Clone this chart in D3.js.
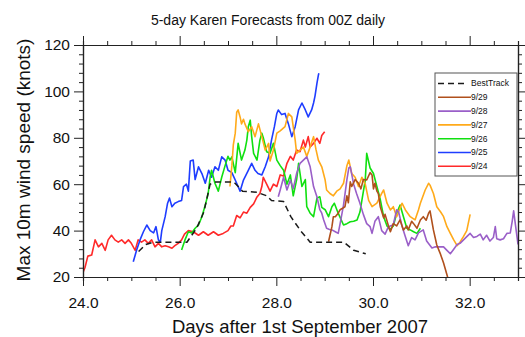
<!DOCTYPE html>
<html>
<head>
<meta charset="utf-8">
<script src="https://cdn.jsdelivr.net/npm/d3@7"></script>
<style>
  body { margin: 0; background: #fff; }
  svg { display: block; font-family: "Liberation Sans", Arial, Helvetica, sans-serif; }
</style>
</head>
<body>
<div id="chart"></div>
<script>
// [day after 1 Sep 2007, max 10m wind (knots)]
var bestTrack = [[25.15,31],[25.3,34],[25.45,35],[25.75,35],[26.0,35],[26.15,35],[26.35,41],[26.5,48],[26.63,60],
  [26.75,61],[27.0,61],[27.12,61],[27.3,57],[27.6,56.5],[27.8,55],[27.9,53],[28.15,52.5],[28.3,46],[28.5,40],
  [28.7,35],[29.0,35],[29.4,35],[29.6,31.5],[29.85,30]];

var fc0924 = [[24.0,22],[24.04,24],[24.1,29],[24.18,29.5],[24.25,36],[24.32,33],[24.39,34.5],[24.46,31.5],[24.52,36],
  [24.59,38],[24.66,36],[24.73,35],[24.8,36],[24.87,34.5],[24.94,36],[25.0,34.5],[25.08,31.5],[25.14,36],[25.21,35],
  [25.28,36],[25.35,34.5],[25.42,36],[25.49,33],[25.56,34.5],[25.63,33],[25.7,33.5],[25.77,33],[25.84,32.4],[25.9,33.5],
  [25.97,34.5],[26.04,36],[26.1,38.5],[26.18,40],[26.28,39.5],[26.39,38],[26.49,39.5],[26.59,38],[26.7,39.5],[26.8,38],
  [26.9,38.8],[27.0,40],[27.06,42],[27.11,42],[27.18,46.5],[27.25,45.5],[27.32,48],[27.39,47.5],[27.46,50],[27.53,51.5],
  [27.6,54.5],[27.66,56],[27.7,59],[27.73,63],[27.8,60],[27.87,57],[27.94,60],[28.01,59],[28.08,64],[28.15,63.5],
  [28.22,69],[28.29,72],[28.35,70.4],[28.42,74.7],[28.49,74],[28.56,79],[28.6,76],[28.66,80.5],[28.7,76],[28.77,77.6],
  [28.84,79.8],[28.9,77.6],[28.94,81],[29.0,82.6]];

var fc0925 = [[25.04,26.6],[25.11,31.6],[25.18,36],[25.25,39.5],[25.32,42.4],[25.39,40],[25.46,39],[25.51,41.7],[25.56,36],
  [25.6,35],[25.63,40],[25.7,46],[25.75,51.8],[25.79,54],[25.84,50.3],[25.9,51.8],[25.97,52.5],[26.04,53],[26.08,59],
  [26.14,60],[26.18,57],[26.22,70],[26.28,70.4],[26.32,62],[26.39,67.5],[26.46,64.6],[26.53,60.4],[26.6,66],[26.66,63],
  [26.73,67.5],[26.8,66],[26.87,71.8],[26.94,70.4],[27.0,66],[27.08,65],[27.18,60.4],[27.25,57],[27.32,61.8],[27.42,66],
  [27.49,69],[27.56,66],[27.62,64.6],[27.7,64],[27.77,67.5],[27.84,71.8],[27.9,79],[27.96,84.8],[28.01,90.5],[28.04,92],
  [28.11,90],[28.18,90.5],[28.25,86],[28.32,80.5],[28.39,84.8],[28.46,92],[28.53,95],[28.6,92],[28.66,89],[28.73,92],
  [28.77,95],[28.8,98],[28.84,103.5],[28.87,107],[28.88,107.8]];

var fc0926 = [[26.04,31.6],[26.11,36],[26.18,39.5],[26.25,39],[26.32,41],[26.39,42.4],[26.46,46],[26.53,51],[26.59,56],
  [26.63,63],[26.66,66],[26.73,60.4],[26.8,57],[26.87,63],[26.94,68],[27.0,72],[27.04,70.4],[27.08,71.8],[27.15,65],
  [27.21,77.6],[27.28,70.4],[27.35,74.7],[27.39,79],[27.42,84.8],[27.46,87.6],[27.49,80.5],[27.53,73.3],[27.6,70.4],
  [27.66,79],[27.7,82],[27.73,80],[27.8,74],[27.87,73.3],[27.94,77.6],[28.01,70.4],[28.08,68],[28.15,66],[28.22,60],
  [28.29,64],[28.35,55],[28.42,62],[28.46,69],[28.53,59],[28.6,62],[28.63,50.3],[28.7,47.5],[28.77,46],[28.84,54],
  [28.9,54.6],[28.94,50],[29.01,49],[29.08,46],[29.15,50.3],[29.2,51.8],[29.28,47.5],[29.39,42.4],[29.46,43],[29.53,43.8],
  [29.6,44],[29.67,44.6],[29.73,48],[29.77,53],[29.84,61.8],[29.87,73.3],[29.94,67],[30.01,64.6],[30.08,59],[30.15,53.5],
  [30.22,46],[30.29,42],[30.35,40.5],[30.42,42],[30.49,47.5],[30.56,51],[30.63,46],[30.7,41],[30.77,40.3],[30.84,39.5],
  [30.91,38.8],[30.98,41]];

var fc0927 = [[27.04,59],[27.08,68],[27.11,77],[27.15,82],[27.18,91],[27.21,92],[27.25,89],[27.28,86],[27.32,88],[27.35,86],
  [27.42,82.6],[27.49,84.8],[27.56,80.5],[27.63,86],[27.7,80.5],[27.77,74.7],[27.84,77.6],[27.87,70],[27.94,74.7],
  [28.01,82],[28.08,83],[28.18,84.8],[28.25,90.5],[28.32,89],[28.39,79],[28.42,73.3],[28.49,74.7],[28.56,76],[28.63,72],
  [28.7,76],[28.77,80.5],[28.82,75],[28.87,70.4],[28.94,67.5],[29.01,61.8],[29.04,57.5],[29.11,56],[29.18,55],[29.25,57],
  [29.32,58],[29.39,60.4],[29.46,68],[29.5,70.4],[29.56,64.6],[29.63,63],[29.7,59],[29.77,63],[29.84,60],[29.91,53],
  [29.98,50.3],[30.08,51.8],[30.18,56],[30.22,57.5],[30.29,51.8],[30.36,48.9],[30.42,50.3],[30.49,46],[30.6,51.8],
  [30.67,48.9],[30.77,46],[30.87,44.6],[30.94,48.9],[30.98,51.8],[31.08,57.5],[31.15,60.4],[31.18,59.6],[31.25,56],
  [31.32,50.3],[31.4,48],[31.46,46],[31.53,41.7],[31.6,38.8],[31.67,36],[31.74,33.5],[31.8,35],[31.87,37.4],[31.94,40],
  [32.01,47]];

var fc0928 = [[28.04,54.6],[28.08,57.5],[28.15,63],[28.22,57.5],[28.29,61.8],[28.35,58],[28.42,64.6],[28.49,69],[28.56,70.4],
  [28.63,71.8],[28.7,67.5],[28.77,59],[28.84,54.6],[28.9,49],[28.94,47.5],[28.98,44.6],[29.04,41],[29.1,40.5],[29.15,40.3],
  [29.22,39.5],[29.28,38.8],[29.32,43],[29.39,51],[29.46,62],[29.5,67],[29.53,67.5],[29.6,60],[29.66,56],[29.73,51.8],
  [29.8,47],[29.87,43],[29.94,41.7],[29.98,38.8],[30.04,44],[30.11,46],[30.18,40],[30.25,38.5],[30.32,41.7],[30.42,42.5],
  [30.49,49],[30.53,48],[30.6,42],[30.66,38],[30.73,33.5],[30.8,37],[30.87,36],[30.94,39],[31.04,40.3],[31.11,35.5],
  [31.22,32.5],[31.29,33],[31.35,33],[31.46,33],[31.53,31.5],[31.6,30],[31.67,32],[31.74,34],[31.8,34.5],[31.94,37.4],
  [32.01,38.8],[32.08,37],[32.15,37.5],[32.22,38.5],[32.28,36],[32.35,38],[32.42,35.5],[32.49,37],[32.53,41.7],[32.56,36.5],
  [32.63,36],[32.7,36.5],[32.77,38.8],[32.84,39],[32.88,44],[32.91,48.5],[32.95,42],[33.0,34]];

var fc0929 = [[29.08,35.2],[29.15,41.7],[29.18,46],[29.22,46],[29.28,47.5],[29.32,49],[29.36,49.5],[29.42,50.3],[29.46,55],
  [29.49,52],[29.53,61],[29.56,59],[29.63,62],[29.7,60.4],[29.75,58],[29.8,62],[29.87,61.8],[29.94,65],[29.98,64],
  [30.01,58],[30.04,60.4],[30.08,57],[30.11,56],[30.15,50.3],[30.22,45.5],[30.25,47],[30.32,42],[30.36,39.5],[30.42,43],
  [30.49,42],[30.56,44.6],[30.63,40.3],[30.7,42],[30.73,40.3],[30.8,44],[30.84,43],[30.91,41],[30.98,44.6],[31.04,46],
  [31.1,44.5],[31.15,47.5],[31.18,48.5],[31.25,40.3],[31.32,33.8],[31.39,30.2],[31.46,26],[31.53,21],[31.58,17]];

var legendLabels = ["BestTrack", "9/29", "9/28", "9/27", "9/26", "9/25", "9/24"];
var xTicks = [24, 26, 28, 30, 32];
var yTicks = [20, 40, 60, 80, 100, 120];

var colors = {
  "BestTrack": "#1a1a1a",
  "9/29": "#b0501c",
  "9/28": "#9a5fc8",
  "9/27": "#ffaa1a",
  "9/26": "#10e010",
  "9/25": "#1f3dff",
  "9/24": "#ff2a2a"
};
var seriesData = {
  "BestTrack": bestTrack, "9/29": fc0929, "9/28": fc0928, "9/27": fc0927,
  "9/26": fc0926, "9/25": fc0925, "9/24": fc0924
};
// drawing order: oldest forecast first, best track last
var drawOrder = ["9/24", "9/25", "9/26", "9/27", "9/28", "9/29", "BestTrack"];

var margin = { top: 45, right: 7, bottom: 60, left: 83 },
    width = 525 - margin.left - margin.right,
    height = 337 - margin.top - margin.bottom;

var x = d3.scaleLinear().domain([24, 33]).range([0, width]);
var y = d3.scaleLinear().domain([20, 120]).range([height, 0]);

var svg = d3.select("#chart").append("svg")
    .attr("width", 525)
    .attr("height", 337);
var g = svg.append("g")
    .attr("transform", "translate(" + margin.left + "," + margin.top + ")");

g.append("clipPath").attr("id", "plot-clip")
  .append("rect").attr("width", width).attr("height", height);

var line = d3.line()
    .x(function (d) { return x(d[0]); })
    .y(function (d) { return y(d[1]); });

var plot = g.append("g").attr("clip-path", "url(#plot-clip)");
drawOrder.forEach(function (name) {
  plot.append("path")
    .datum(seriesData[name])
    .attr("fill", "none")
    .attr("stroke", colors[name])
    .attr("stroke-width", name === "BestTrack" ? 1.5 : 1.6)
    .attr("stroke-dasharray", name === "BestTrack" ? "6,4" : null)
    .attr("stroke-linejoin", "round")
    .attr("d", line);
});

// minor tick positions
var xMinor = d3.range(24, 33.01, 0.5).filter(function (v) { return xTicks.indexOf(v) < 0; });
var yMinor = d3.range(20, 120.01, 4).filter(function (v) { return yTicks.indexOf(v) < 0; });

function styleAxis(sel) {
  sel.selectAll("path.domain").attr("stroke", "#222").attr("stroke-width", 1.2);
  sel.selectAll(".tick line").attr("stroke", "#222").attr("stroke-width", 1);
  sel.selectAll("text").attr("fill", "#111").style("font-size", "15.5px");
}

// bottom
g.append("g").attr("transform", "translate(0," + height + ")")
  .call(d3.axisBottom(x).tickValues(xTicks).tickFormat(d3.format(".1f"))
    .tickSizeInner(9).tickSizeOuter(0).tickPadding(11))
  .call(styleAxis);
g.append("g").attr("transform", "translate(0," + height + ")")
  .call(d3.axisBottom(x).tickValues(xMinor).tickFormat("").tickSize(4))
  .call(styleAxis);
// top
g.append("g")
  .call(d3.axisTop(x).tickValues(xTicks).tickFormat("").tickSizeInner(9).tickSizeOuter(0))
  .call(styleAxis);
g.append("g")
  .call(d3.axisTop(x).tickValues(xMinor).tickFormat("").tickSize(4))
  .call(styleAxis);
// left
g.append("g")
  .call(d3.axisLeft(y).tickValues(yTicks).tickFormat(d3.format("d"))
    .tickSizeInner(9).tickSizeOuter(0).tickPadding(4))
  .call(styleAxis);
g.append("g")
  .call(d3.axisLeft(y).tickValues(yMinor).tickFormat("").tickSize(4))
  .call(styleAxis);
// right
g.append("g").attr("transform", "translate(" + width + ",0)")
  .call(d3.axisRight(y).tickValues(yTicks).tickFormat("").tickSizeInner(9).tickSizeOuter(0))
  .call(styleAxis);
g.append("g").attr("transform", "translate(" + width + ",0)")
  .call(d3.axisRight(y).tickValues(yMinor).tickFormat("").tickSize(4))
  .call(styleAxis);

// titles
svg.append("text")
  .attr("x", 268).attr("y", 25)
  .attr("text-anchor", "middle")
  .style("font-size", "14px").attr("fill", "#111")
  .text("5-day Karen Forecasts from 00Z daily");

svg.append("text")
  .attr("x", 300).attr("y", 333)
  .attr("text-anchor", "middle")
  .style("font-size", "18.5px").attr("fill", "#111")
  .text("Days after 1st September 2007");

svg.append("text")
  .attr("transform", "translate(30,160) rotate(-90)")
  .attr("text-anchor", "middle")
  .style("font-size", "19px").attr("fill", "#111")
  .text("Max 10m wind speed (knots)");

// legend
var legend = svg.append("g").attr("transform", "translate(435,73)");
legend.append("rect")
  .attr("width", 82).attr("height", 103)
  .attr("fill", "#fff").attr("stroke", "#555").attr("stroke-width", 1);

var items = legend.selectAll("g.item").data(legendLabels).enter()
  .append("g").attr("class", "item")
  .attr("transform", function (d, i) { return "translate(0," + (10.5 + i * 13.8) + ")"; });
items.append("line")
  .attr("x1", 3)
  .attr("x2", function (d) { return d === "BestTrack" ? 29 : 36; })
  .attr("stroke", function (d) { return colors[d]; })
  .attr("stroke-width", 1.6)
  .attr("stroke-dasharray", function (d) { return d === "BestTrack" ? "6,4" : null; });
items.append("text")
  .attr("x", function (d) { return d === "BestTrack" ? 36 : 36; })
  .attr("dy", "0.35em")
  .style("font-size", "8.5px")
  .attr("fill", "#111")
  .text(function (d) { return d; });
</script>
</body>
</html>
